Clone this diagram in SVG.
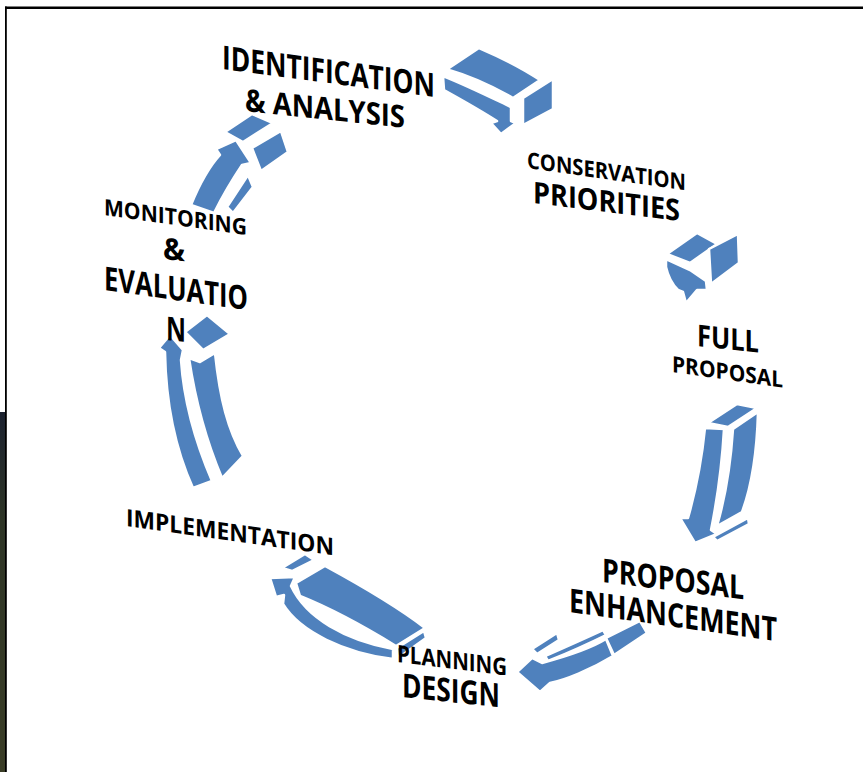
<svg xmlns="http://www.w3.org/2000/svg" width="863" height="772" viewBox="0 0 863 772">
<defs>
<style>
.lbl{font-family:"Open Sans","Liberation Sans",sans-serif;font-weight:700;fill:#000}
.arw{fill:#4f81bd;stroke:#fff;stroke-width:2.5;stroke-linejoin:round}
</style>
<linearGradient id="bg" x1="0" y1="0" x2="0" y2="1">
<stop offset="0" stop-color="#1c2230"/><stop offset="0.3" stop-color="#2e3526"/><stop offset="1" stop-color="#3a3d26"/>
</linearGradient>
</defs>
<rect x="0" y="0" width="863" height="772" fill="#fff"/>
<rect x="0" y="412" width="6" height="360" fill="url(#bg)"/>
<rect x="5" y="6.5" width="858" height="2.5" fill="#000"/>
<rect x="5" y="6.5" width="1.8" height="766" fill="#000"/>

<g id="connectors">
<g id="arrow-identification-conservation">
<path class="arw" d="M449,68 L479,48 C500,57 522,68 540,80 L513,98 C492,86 470,76 449,70 Z"/>
<path class="arw" d="M443,76 C468,86 490,97 511,107 L511,121 L516,123 L501,134 L491,123 L497,121 C480,110 462,100 444,90 Z"/>
<path class="arw" d="M523,98 L553,79 L553,109 L523,125 Z"/>
</g>
<g id="arrow-conservation-full">
<path class="arw" d="M667,254 L697,233 L717,244 L690,263 Z"/>
<path class="arw" d="M709,249 L738,234 L739,263 L711,284 Z"/>
<path class="arw" d="M666,259 L690,270 L706,281 L707,290 L697,290 L686,303 L683,292 L678,290 C672,284 668,276 666,267 Z"/>
</g>
<g id="arrow-full-enhancement">
<path class="arw" d="M708,423 L737,404 L757,408 L728,427 Z"/>
<path class="arw" d="M733,429 L758,412 C757,450 752,485 742,512 L717,526 C726,495 731,460 733,429 Z"/>
<path class="arw" d="M705,428 L724,429 C722,465 717,500 711,530 L717,534 L695,543 L680,518 L688,518 C696,490 702,458 705,428 Z"/>
<path class="arw" d="M713,537 L748,518 L749,524 L717,541 Z"/>
</g>
<g id="arrow-enhancement-planning">
<path class="arw" d="M606,638 L640,621 L647,633 L614,655 Z"/>
<path class="arw" d="M532,649 L557,633 L559,640 L537,654 Z"/>
<path class="arw" d="M545,656 C570,645 590,636 603,630 L606,635 C590,643 570,652 548,661 Z"/>
<path class="arw" d="M606,639 L613,656 C590,670 565,680 550,683 L540,692 L517,672 L532,658 L542,663 C568,656 590,649 606,639 Z"/>
</g>
<g id="arrow-planning-implementation">
<path class="arw" d="M282,568 L305,554 L314,560 L292,571 Z"/>
<path class="arw" d="M296,583 L325,566 C360,585 395,605 425,628 L396,646 C365,627 330,608 300,596 Z"/>
<path class="arw" d="M270,578 L295,577 L291,586 C306,618 345,640 393,649 L393,659 C345,653 300,632 283,604 L284,595 L276,597 Z"/>
<path class="arw" d="M397,648 L424,631 L426,638 L398,658 Z"/>
</g>
<g id="arrow-implementation-monitoring">
<path class="arw" d="M185,332 L207,315 L230,334 L203,350 Z"/>
<path class="arw" d="M170,335 L183,350 L181,360 C183,390 190,430 212,481 L193,488 C178,455 166,410 165,352 L159,348 Z"/>
<path class="arw" d="M189,358 L200,362 L215,353 C220,400 228,430 243,456 L222,478 C208,445 196,405 189,358 Z"/>
</g>
<g id="arrow-monitoring-identification">
<path class="arw" d="M225,132 L252,114 L273,123 L243,142 Z"/>
<path class="arw" d="M252,148 L281,131 L288,152 L261,171 Z"/>
<path class="arw" d="M191,205 C198,188 208,168 220,155 L216,149 L236,140 L251,163 L242,165 C232,180 222,197 214,213 Z"/>
<path class="arw" d="M227,207 L248,175 L253,187 L233,213 Z"/>
</g>
</g>

<g id="node-identification">
<text class="lbl" transform="translate(222,69) skewY(7.5)" font-size="33" textLength="213" lengthAdjust="spacingAndGlyphs">IDENTIFICATION</text>
<text class="lbl" transform="translate(245,111) skewY(6)" font-size="31" textLength="160" lengthAdjust="spacingAndGlyphs">&amp; ANALYSIS</text>
</g>
<g id="node-conservation">
<text class="lbl" transform="translate(527,168) skewY(8)" font-size="22.5" textLength="159" lengthAdjust="spacingAndGlyphs">CONSERVATION</text>
<text class="lbl" transform="translate(533,203) skewY(7)" font-size="30" textLength="147" lengthAdjust="spacingAndGlyphs">PRIORITIES</text>
</g>
<g id="node-full-proposal">
<text class="lbl" transform="translate(697,346) skewY(6)" font-size="30" textLength="62" lengthAdjust="spacingAndGlyphs">FULL</text>
<text class="lbl" transform="translate(672,372) skewY(8)" font-size="22.5" textLength="111" lengthAdjust="spacingAndGlyphs">PROPOSAL</text>
</g>
<g id="node-proposal-enhancement">
<text class="lbl" transform="translate(602,582) skewY(7)" font-size="33" textLength="142" lengthAdjust="spacingAndGlyphs">PROPOSAL</text>
<text class="lbl" transform="translate(569,612) skewY(8)" font-size="33" textLength="208" lengthAdjust="spacingAndGlyphs">ENHANCEMENT</text>
</g>
<g id="node-planning-design">
<text class="lbl" transform="translate(397,662) skewY(7)" font-size="24" textLength="110" lengthAdjust="spacingAndGlyphs">PLANNING</text>
<text class="lbl" transform="translate(402,697) skewY(6)" font-size="33" textLength="98" lengthAdjust="spacingAndGlyphs">DESIGN</text>
</g>
<g id="node-implementation">
<text class="lbl" transform="translate(126,526) skewY(8)" font-size="24" textLength="208" lengthAdjust="spacingAndGlyphs">IMPLEMENTATION</text>
</g>
<g id="node-monitoring">
<text class="lbl" transform="translate(104,215) skewY(8)" font-size="22.5" textLength="143" lengthAdjust="spacingAndGlyphs">MONITORING</text>
<text class="lbl" transform="translate(163,259) skewY(6)" font-size="30" textLength="22" lengthAdjust="spacingAndGlyphs">&amp;</text>
<text class="lbl" transform="translate(104,290) skewY(8)" font-size="33" textLength="144" lengthAdjust="spacingAndGlyphs">EVALUATIO</text>
<text class="lbl" transform="translate(166,340) skewY(6)" font-size="33" textLength="20" lengthAdjust="spacingAndGlyphs">N</text>
</g>
</svg>
